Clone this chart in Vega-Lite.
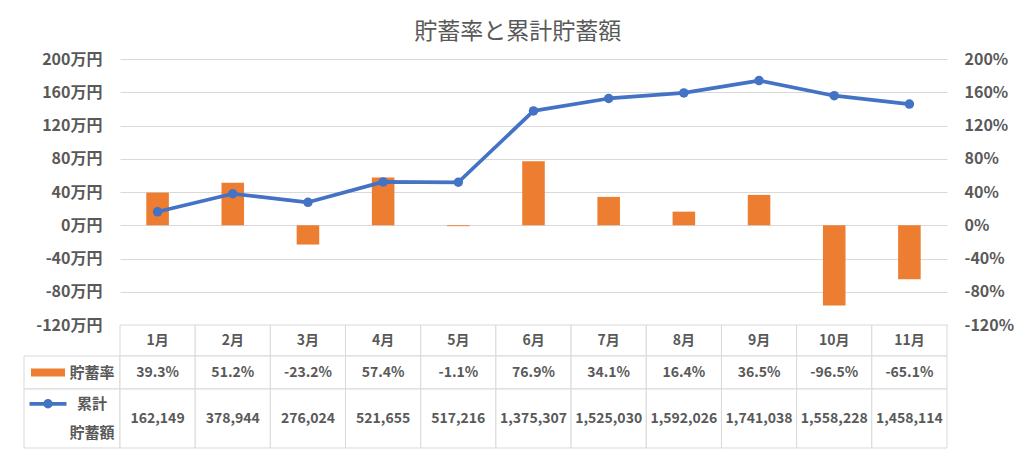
{
  "$schema": "https://vega.github.io/schema/vega-lite/v6.json",
  "background": "white",
  "padding": {"left": 22, "top": 21, "right": 5, "bottom": 1},
  "autosize": {"type": "pad"},
  "title": {"text": "貯蓄率と累計貯蓄額", "anchor": "middle", "frame": "bounds", "font": "Noto Sans CJK JP", "fontSize": 23, "fontWeight": "normal", "color": "#595959", "offset": 7},
  "datasets": {
    "main": [
      {"month": "1月", "rate": 0.393, "cum": 162149},
      {"month": "2月", "rate": 0.512, "cum": 378944},
      {"month": "3月", "rate": -0.232, "cum": 276024},
      {"month": "4月", "rate": 0.574, "cum": 521655},
      {"month": "5月", "rate": -0.011, "cum": 517216},
      {"month": "6月", "rate": 0.769, "cum": 1375307},
      {"month": "7月", "rate": 0.341, "cum": 1525030},
      {"month": "8月", "rate": 0.164, "cum": 1592026},
      {"month": "9月", "rate": 0.365, "cum": 1741038},
      {"month": "10月", "rate": -0.965, "cum": 1558228},
      {"month": "11月", "rate": -0.651, "cum": 1458114}
    ]
  },
  "columns": 2,
  "spacing": 0,
  "bounds": "flush",
  "concat": [
    {"width": 96, "height": 266, "data": {"values": []}, "mark": "rect", "encoding": {}},
    {
      "width": 827, "height": 266,
      "data": {"name": "main"},
      "layer": [
        {
          "mark": {"type": "bar", "color": "#ED7D31", "width": {"band": 0.3}},
          "encoding": {
            "x": {"field": "month", "type": "ordinal", "sort": null, "axis": null, "scale": {"paddingInner": 0, "paddingOuter": 0}},
            "y": {"field": "rate", "type": "quantitative", "scale": {"domain": [-1.2, 2.0], "nice": false, "zero": false},
              "axis": {"orient": "right", "values": [-1.2, -0.8, -0.4, 0, 0.4, 0.8, 1.2, 1.6, 2.0], "format": ".0%", "grid": false, "domain": false, "ticks": false, "labelPadding": 17, "title": null}}
          }
        },
        {
          "mark": {"type": "line", "color": "#4472C4", "strokeWidth": 3.75, "strokeJoin": "round", "strokeCap": "round", "point": {"filled": true, "size": 90, "color": "#4472C4"}},
          "encoding": {
            "x": {"field": "month", "type": "ordinal", "sort": null, "axis": null},
            "y": {"field": "cum", "type": "quantitative", "scale": {"domain": [-1200000, 2000000], "nice": false, "zero": false},
              "axis": {"orient": "left", "values": [-1200000, -800000, -400000, 0, 400000, 800000, 1200000, 1600000, 2000000], "labelExpr": "(datum.value/10000) + '万円'", "grid": true, "gridColor": "#D9D9D9", "gridWidth": 1, "domain": false, "ticks": false, "labelPadding": 18, "title": null}}
          }
        }
      ],
      "resolve": {"scale": {"y": "independent"}}
    },
    {"width": 96, "height": 31, "data": {"values": []}, "mark": "rect", "encoding": {}},
    {
      "width": 827, "height": 31,
      "data": {"name": "main"},
      "layer": [
        {"mark": {"type": "rect", "fill": "white", "stroke": "#D9D9D9", "strokeWidth": 1},
          "encoding": {"x": {"field": "month", "type": "ordinal", "sort": null, "axis": null, "scale": {"paddingInner": 0, "paddingOuter": 0}}}},
        {"mark": {"type": "text", "font": "Noto Sans CJK JP", "fontSize": 14, "fontWeight": "bold", "color": "#595959"},
          "encoding": {"x": {"field": "month", "type": "ordinal", "sort": null, "axis": null}, "text": {"field": "month"}}}
      ]
    },
    {
      "width": 96, "height": 33,
      "layer": [
        {"data": {"values": [{}]}, "mark": {"type": "rect", "fill": "white", "stroke": "#D9D9D9", "strokeWidth": 1}, "encoding": {}},
        {"data": {"values": [{}]}, "mark": {"type": "point", "shape": "M-1,-0.235H1V0.235H-1Z", "size": 1156, "filled": true, "color": "#ED7D31", "opacity": 1, "strokeWidth": 0},
          "encoding": {"x": {"datum": "key", "type": "nominal", "axis": null, "scale": {"domain": ["key", "label"], "paddingInner": 0, "paddingOuter": 0}}}},
        {"data": {"values": [{}]}, "mark": {"type": "text", "font": "Noto Sans CJK JP", "fontSize": 15, "fontWeight": "bold", "color": "#595959", "dx": -4, "text": "貯蓄率"},
          "encoding": {"x": {"datum": "label", "type": "nominal", "axis": null}}}
      ]
    },
    {
      "width": 827, "height": 33,
      "data": {"name": "main"},
      "layer": [
        {"mark": {"type": "rect", "fill": "white", "stroke": "#D9D9D9", "strokeWidth": 1},
          "encoding": {"x": {"field": "month", "type": "ordinal", "sort": null, "axis": null, "scale": {"paddingInner": 0, "paddingOuter": 0}}}},
        {"mark": {"type": "text", "font": "Noto Sans CJK JP", "fontSize": 14, "fontWeight": "bold", "color": "#595959"},
          "encoding": {"x": {"field": "month", "type": "ordinal", "sort": null, "axis": null}, "text": {"field": "rate", "type": "quantitative", "format": ".1%"}}}
      ]
    },
    {
      "width": 96, "height": 59,
      "layer": [
        {"data": {"values": [{}]}, "mark": {"type": "rect", "fill": "white", "stroke": "#D9D9D9", "strokeWidth": 1}, "encoding": {}},
        {"data": {"values": [{}]}, "mark": {"type": "point", "shape": "M-1,0H1", "size": 1369, "filled": false, "color": "#4472C4", "opacity": 1, "strokeWidth": 3.75},
          "encoding": {
            "x": {"datum": "key", "type": "nominal", "axis": null, "scale": {"domain": ["key", "label"], "paddingInner": 0, "paddingOuter": 0}},
            "y": {"datum": "l1", "type": "nominal", "axis": null, "scale": {"domain": ["l1", "l2"], "paddingInner": 0, "paddingOuter": 0}}}},
        {"data": {"values": [{}]}, "mark": {"type": "circle", "size": 90, "color": "#4472C4", "opacity": 1},
          "encoding": {"x": {"datum": "key", "type": "nominal", "axis": null}, "y": {"datum": "l1", "type": "nominal", "axis": null}}},
        {"data": {"values": [{"t": "累計", "line": "l1"}, {"t": "貯蓄額", "line": "l2"}]}, "mark": {"type": "text", "font": "Noto Sans CJK JP", "fontSize": 15, "fontWeight": "bold", "color": "#595959", "dx": -4},
          "encoding": {"x": {"datum": "label", "type": "nominal", "axis": null}, "y": {"field": "line", "type": "nominal", "axis": null}, "text": {"field": "t"}}}
      ]
    },
    {
      "width": 827, "height": 59,
      "data": {"name": "main"},
      "layer": [
        {"mark": {"type": "rect", "fill": "white", "stroke": "#D9D9D9", "strokeWidth": 1},
          "encoding": {"x": {"field": "month", "type": "ordinal", "sort": null, "axis": null, "scale": {"paddingInner": 0, "paddingOuter": 0}}}},
        {"mark": {"type": "text", "font": "Noto Sans CJK JP", "fontSize": 14, "fontWeight": "bold", "color": "#595959"},
          "encoding": {"x": {"field": "month", "type": "ordinal", "sort": null, "axis": null}, "text": {"field": "cum", "type": "quantitative", "format": ","}}}
      ]
    }
  ],
  "config": {
    "view": {"stroke": null},
    "locale": {"number": {"decimal": ".", "thousands": ",", "grouping": [3], "currency": ["", ""], "minus": "-"}},
    "axis": {"labelFont": "Noto Sans CJK JP", "labelFontSize": 16, "labelFontWeight": "bold", "labelColor": "#595959"}
  }
}
